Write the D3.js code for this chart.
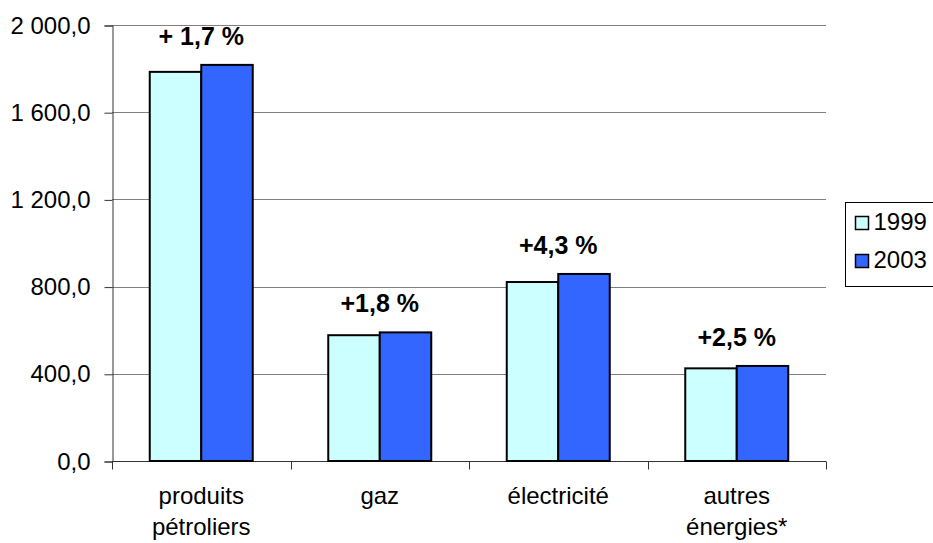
<!DOCTYPE html>
<html>
<head>
<meta charset="utf-8">
<script src="https://cdn.jsdelivr.net/npm/d3@7/dist/d3.min.js"></script>
<style>
  html, body { margin: 0; padding: 0; background: #fff; }
  svg { display: block; font-family: Arial, "Liberation Sans", sans-serif; }
</style>
</head>
<body>
<svg id="chart" width="933" height="543"></svg>
<script>
// data
var categories = [["produits", "pétroliers"], ["gaz"], ["électricité"], ["autres", "énergies*"]];
var series = ["1999", "2003"];
var values1999 = [1785, 577, 821, 425];
var values2003 = [1817, 590, 858, 436];
var changeLabels = ["+ 1,7 %", "+1,8 %", "+4,3 %", "+2,5 %"];
var yTicks = [0, 400, 800, 1200, 1600, 2000];
var colors = ["#ccffff", "#3366ff"];

var svg = d3.select("#chart");
var mLeft = 112, mRight = 826, mTop = 25, mBottom = 461;

var fr = d3.formatLocale({ decimal: ",", thousands: " ", grouping: [3], currency: ["", "€"] });
var fmt = fr.format(",.1f");

var x = d3.scaleBand()
  .domain(d3.range(categories.length))
  .range([mLeft, mRight])
  .paddingInner(0.423)
  .paddingOuter(0.2115);

var xs = d3.scaleBand().domain(series).range([0, x.bandwidth()]);

var y = d3.scaleLinear().domain([0, 2000]).range([mBottom, mTop]);

// gridlines
svg.append("g").selectAll("line")
  .data(yTicks.slice(1))
  .enter().append("line")
    .attr("x1", mLeft).attr("x2", mRight)
    .attr("y1", function(d){ return Math.round(y(d)) + 0.5; })
    .attr("y2", function(d){ return Math.round(y(d)) + 0.5; })
    .attr("stroke", "#808080").attr("stroke-width", 1);

// y axis
var yAxis = svg.append("g")
  .attr("transform", "translate(" + (mLeft + 0.5) + ",0.5)")
  .call(d3.axisLeft(y).tickValues(yTicks).tickFormat(fmt).tickSize(8).tickPadding(14));
yAxis.select(".domain").attr("stroke", "#333");
yAxis.selectAll(".tick line").attr("stroke", "#333");
yAxis.selectAll("text").attr("font-size", 24).attr("fill", "#000").attr("font-family", "Arial, 'Liberation Sans', sans-serif");

// x axis
var xAxis = svg.append("g")
  .attr("transform", "translate(0," + (mBottom + 0.5) + ")");
xAxis.append("line")
  .attr("x1", mLeft).attr("x2", mRight)
  .attr("stroke", "#333");
xAxis.selectAll("line.tk")
  .data(d3.range(categories.length + 1))
  .enter().append("line")
    .attr("class", "tk")
    .attr("x1", function(i){ return Math.round(mLeft + i * x.step()) + 0.5; })
    .attr("x2", function(i){ return Math.round(mLeft + i * x.step()) + 0.5; })
    .attr("y1", 0).attr("y2", 8)
    .attr("stroke", "#333");

// category labels
svg.append("g").selectAll("text")
  .data(categories)
  .enter().append("text")
    .attr("text-anchor", "middle")
    .attr("font-size", 24)
    .attr("x", function(d, i){ return x(i) + x.bandwidth() / 2; })
    .attr("y", 504)
    .each(function(lines) {
      var t = d3.select(this);
      lines.forEach(function(l, k) {
        t.append("tspan")
          .attr("x", t.attr("x"))
          .attr("dy", k === 0 ? 0 : 31)
          .text(l);
      });
    });

// bars
var rows = categories.map(function(c, i) {
  return { i: i, vals: [values1999[i], values2003[i]] };
});

var groups = svg.append("g").selectAll("g")
  .data(rows)
  .enter().append("g")
    .attr("transform", function(d){ return "translate(" + x(d.i) + ",0)"; });

groups.selectAll("rect")
  .data(function(d){ return d.vals.map(function(v, k){ return { k: k, v: v }; }); })
  .enter().append("rect")
    .attr("x", function(d){ return xs(series[d.k]); })
    .attr("width", xs.bandwidth())
    .attr("y", function(d){ return y(d.v); })
    .attr("height", function(d){ return mBottom - y(d.v); })
    .attr("fill", function(d){ return colors[d.k]; })
    .attr("stroke", "#000")
    .attr("stroke-width", 2);

// change labels
svg.append("g").selectAll("text")
  .data(rows)
  .enter().append("text")
    .attr("text-anchor", "middle")
    .attr("font-size", 25)
    .attr("font-weight", "bold")
    .attr("x", function(d){ return x(d.i) + x.bandwidth() / 2; })
    .attr("y", function(d){ return y(d3.max(d.vals)) - 20; })
    .text(function(d){ return changeLabels[d.i]; });

// legend
var legend = svg.append("g").attr("transform", "translate(845.5,202.5)");
legend.append("rect")
  .attr("width", 120).attr("height", 84)
  .attr("fill", "#fff").attr("stroke", "#000");
series.forEach(function(s, k) {
  legend.append("rect")
    .attr("x", 10).attr("y", 14 + k * 38)
    .attr("width", 13).attr("height", 13)
    .attr("fill", colors[k]).attr("stroke", "#000").attr("stroke-width", 1.5);
  legend.append("text")
    .attr("x", 28).attr("y", 27 + k * 38)
    .attr("font-size", 24)
    .text(s);
});
</script>
</body>
</html>
